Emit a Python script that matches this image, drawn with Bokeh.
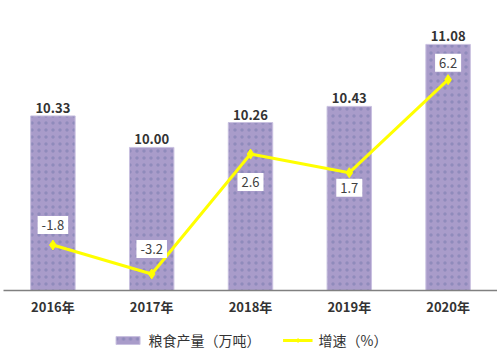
from bokeh.plotting import figure
from bokeh.layouts import column
from bokeh.models import Range1d, FactorRange, ColumnDataSource, Legend, LegendItem
from bokeh.core.properties import value
from bokeh.embed import file_html
from bokeh.resources import INLINE

years = ["2016年", "2017年", "2018年", "2019年", "2020年"]
output = [10.33, 10.00, 10.26, 10.43, 11.08]
growth = [-1.8, -3.2, 2.6, 1.7, 6.2]

# label offsets (screen px) for growth labels
growth_label_dy = [-20, -25, 28, 15, -17]

FONT_NAME = "Noto Sans CJK SC"
FONT = value(FONT_NAME)

BAR_STYLE = dict(fill_color="#A99CCA", line_color="#C9C1E0", line_width=1,
                 hatch_pattern="dot", hatch_color="#6E76A8", hatch_scale=7,
                 hatch_weight=0.6, hatch_alpha=0.45)
LINE_STYLE = dict(line_color="#FFFF00", line_width=3)
MARK_STYLE = dict(marker="diamond", size=10, fill_color="#FFFF00", line_color="#FFFF00")

xr = FactorRange(*years, range_padding=0)
p = figure(x_range=xr, y_range=Range1d(8.5, 11.54),
           frame_width=494, frame_height=290,
           output_backend="svg", toolbar_location=None,
           min_border_left=3, min_border_right=0, min_border_top=0, min_border_bottom=32)
p.extra_y_ranges = {"rate": Range1d(-4, 10.03)}

bar_src = ColumnDataSource(dict(x=years, top=output,
                                lbl=[f"{v:.2f}" for v in output]))
line_src = ColumnDataSource(dict(x=years, y=growth,
                                 lbl=[f"{v:.1f}" for v in growth],
                                 dy=growth_label_dy))

p.vbar(x="x", top="top", bottom=8.5, width=0.45, source=bar_src, **BAR_STYLE)

p.text(x="x", y="top", text="lbl", source=bar_src,
       text_align="center", text_baseline="bottom", y_offset=-3,
       text_font=FONT, text_font_size="13px", text_font_style="bold",
       text_color="#333333")

p.line(x="x", y="y", source=line_src, y_range_name="rate", **LINE_STYLE)
p.scatter(x="x", y="y", source=line_src, y_range_name="rate", **MARK_STYLE)

p.text(x="x", y="y", text="lbl", source=line_src, y_range_name="rate",
       y_offset="dy", text_align="center", text_baseline="middle",
       text_font=FONT, text_font_size="13px", text_color="#404040",
       background_fill_color="white", padding=4)

p.xaxis.axis_line_color = "#808080"
p.xaxis.axis_line_width = 1.5
p.xaxis.major_tick_line_color = None
p.xaxis.minor_tick_line_color = None
p.xaxis.major_tick_out = 0
p.xaxis.major_tick_in = 0
p.xaxis.major_label_text_font = FONT_NAME
p.xaxis.major_label_text_font_size = "13px"
p.xaxis.major_label_text_font_style = "bold"
p.xaxis.major_label_text_color = "#333333"
p.xaxis.major_label_standoff = 6
p.yaxis.visible = False
p.xgrid.visible = False
p.ygrid.visible = False
p.outline_line_color = None

# legend strip: same data and styles, drawn outside its visible range
lf = figure(x_range=xr, y_range=Range1d(100, 101), width=497, height=36,
            output_backend="svg", toolbar_location=None,
            min_border_left=0, min_border_right=0, min_border_top=0, min_border_bottom=0)
lb = lf.vbar(x="x", top="top", bottom=8.5, width=0.45, source=bar_src, **BAR_STYLE)
ll = lf.line(x="x", y="y", source=line_src, **LINE_STYLE)
lm = lf.scatter(x="x", y="y", source=line_src, **MARK_STYLE)
lf.axis.visible = False
lf.xgrid.visible = False
lf.ygrid.visible = False
lf.outline_line_color = None

legend = Legend(items=[LegendItem(label="粮食产量（万吨）", renderers=[lb]),
                       LegendItem(label="增速（%）", renderers=[ll, lm])],
                orientation="horizontal", location="center",
                label_text_font=FONT_NAME, label_text_font_size="14px",
                label_text_color="#333333",
                glyph_width=30, glyph_height=10, label_height=20,
                label_standoff=6, spacing=22, padding=0, margin=0,
                border_line_color=None, background_fill_alpha=0)
lf.add_layout(legend, "center")

layout = column(p, lf, spacing=0)
open("out.html", "w").write(file_html(layout, INLINE))
